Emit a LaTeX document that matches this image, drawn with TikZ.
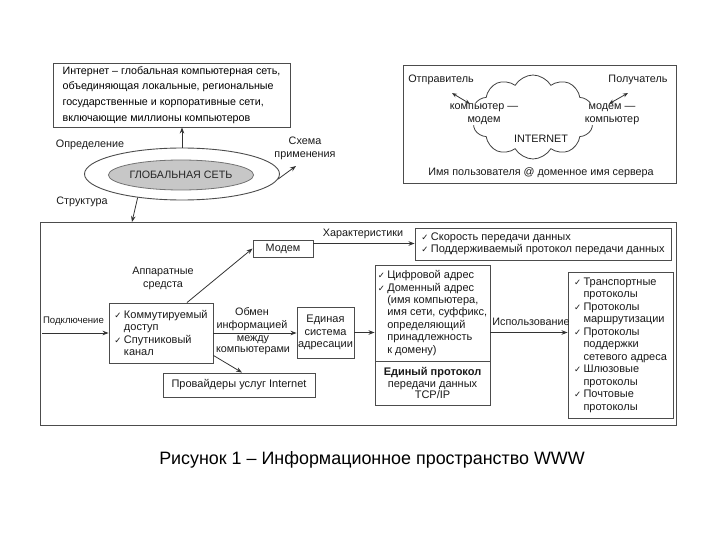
\documentclass[tikz,border=0pt]{standalone}
\usepackage{fontspec}
\setmainfont{Liberation Sans}
\newfontfamily\dejavu{DejaVu Sans}
\usetikzlibrary{shapes.geometric,shapes.symbols,arrows.meta,calc}
\newcommand\fsz[2]{\fontsize{#1}{#2}\selectfont}
\newcommand\ck{{\dejavu\fontsize{8.5}{8.5}\selectfont ✓}}
\newcommand\ci{\makebox[9.5pt][l]{\ck}}
\newcommand\cc{\hspace*{9.5pt}}
\begin{document}
\begin{tikzpicture}[x=1pt,y=-1pt,
  box/.style={draw=black!70, line width=0.9pt},
  txt/.style={text=black!90, inner sep=1pt, align=center, font=\fsz{10.8}{13}},
  bfont/.style={text=black!90, inner xsep=0pt, inner ysep=0pt, align=left, font=\fsz{11}{12.4}},
  arr/.style={draw=black!80, line width=0.8pt, -{Stealth[length=6pt,width=4.5pt]}},
  darr/.style={draw=black!80, line width=0.8pt, {Stealth[length=5pt,width=4pt]}-{Stealth[length=5pt,width=4pt]}},
]
\useasboundingbox (0,0) rectangle (720,540);
% definition box
\node[box, inner xsep=0pt, inner ysep=0pt, minimum width=237pt, minimum height=64pt, align=left, font=\fsz{10.7}{15.7}, text=black] (def) at (171.5,95) {Интернет – глобальная компьютерная сеть,\\ объединяющая локальные, региональные\\ государственные и корпоративные сети,\\ включающие миллионы компьютеров};
% ellipses
\node[ellipse, box, minimum width=195pt, minimum height=52pt, inner sep=0pt] (glob) at (182,174) {};
\node[ellipse, draw=black!55, fill=black!22, line width=0.8pt, minimum width=122pt, minimum height=30pt, inner sep=0pt, font=\fsz{10.7}{11}, text=black!85] (core) at (181,175) {ГЛОБАЛЬНАЯ СЕТЬ};
\node[txt] (opr) at (90,145) {Определение};
\node[txt] (schema) at (305,148) {Схема\\применения};
\node[txt] (struct) at (82,202) {Структура};
\coordinate (schemaend) at (296,166);
\coordinate (structend) at (132,222);
\draw[arr] (glob.north) -- (glob.north |- def.south);
\draw[arr] (glob.-3) -- (schemaend);
\draw[arr] (glob.208) -- (structend);
% top right box
\node[box, minimum width=273pt, minimum height=118pt] (web) at (539.5,124) {};
\node[cloud, draw=black!75, line width=0.8pt, cloud puffs=10, cloud puff arc=120, aspect=1.5, minimum width=122pt, minimum height=84pt, inner sep=0pt] (cloud) at (533,117) {};
\node[txt, fill=white, inner sep=0.5pt] (compl) at (484,114) {компьютер —\\модем};
\node[txt, fill=white, inner sep=0.5pt] (compr) at (612,114) {модем —\\компьютер};
\node[txt] (inet) at (541,139) {INTERNET};
\node[txt] (sender) at (441,80) {Отправитель};
\node[txt] (recip) at (638,80) {Получатель};
\node[txt] (email) at (541,173) {Имя пользователя @ доменное имя сервера};
\draw[darr] ([xshift=11pt,yshift=-7pt]sender.south) -- ([xshift=-14pt,yshift=-1pt]compl.north);
\draw[darr] ([xshift=-10pt,yshift=-7pt]recip.south) -- ([xshift=-3pt,yshift=-1pt]compr.north);
% big box
\node[box, minimum width=636pt, minimum height=203pt] (big) at (358,323.5) {};
\node[box, txt, minimum width=60pt, minimum height=17pt] (modem) at (283,248.5) {Модем};
\node[box, bfont, minimum width=256pt, minimum height=32pt] (chars) at (543,244) {\ci Скорость передачи данных\\ \ci Поддерживаемый протокол передачи данных};
\node[txt] (charl) at (363,234) {Характеристики};
\draw[arr] ([yshift=5pt]modem.east) -- ([yshift=5pt]modem.east -| chars.west);
\node[box, bfont, minimum width=104pt, minimum height=60pt] (conn) at (161,333) {\ci Коммутируемый\\ \cc доступ\\ \ci Спутниковый\\ \cc канал};
\node[txt, font=\fsz{9.6}{12}] (podkl) at (73.5,321) {Подключение};
\coordinate (connstart) at (42,333);
\draw[arr] (connstart) -- (conn.west);
\node[txt] (hw) at (163,278) {Аппаратные\\средста};
\draw[arr] ([xshift=26pt]conn.north) -- (modem.west);
\node[txt] (xchg) at (252,319) {Обмен\\информацией};
\node[txt, font=\fsz{10.8}{11}] (between) at (253,345) {между\\компьютерами};
\node[box, txt, inner sep=0pt, minimum width=57pt, minimum height=51pt, font=\fsz{11}{12.8}] (unified) at (325.5,332.5) {Единая\\система\\адресации};
\draw[arr] (conn.east) -- (conn.east -| unified.west);
\node[box, bfont, minimum width=115pt, minimum height=96pt] (addrtop) at (432.5,313) {\ci Цифровой адрес\\ \ci Доменный адрес\\ \cc (имя компьютера,\\ \cc имя сети, суффикс,\\ \cc определяющий\\ \cc принадлежность\\ \cc к домену)};
\node[box, txt, minimum width=115pt, minimum height=44pt, font=\fsz{11}{11.6}] (addrbot) at (432.5,383) {\textbf{Единый протокол}\\передачи данных\\TCP/IP};
\draw[arr] (unified.east) -- (unified.east -| addrtop.west);
\node[box, bfont, minimum width=105pt, minimum height=146pt, font=\fsz{11}{12.5}] (proto) at (620.5,345) {\ci Транспортные\\ \cc протоколы\\ \ci Протоколы\\ \cc маршрутизации\\ \ci Протоколы\\ \cc поддержки\\ \cc сетевого адреса\\ \ci Шлюзовые\\ \cc протоколы\\ \ci Почтовые\\ \cc протоколы};
\node[txt] (use) at (531,322) {Использование};
\draw[arr] (unified.east -| addrtop.east) -- (unified.east -| proto.west);
\node[box, txt, minimum width=152pt, minimum height=24pt, font=\fsz{11}{12}] (prov) at (239,385) {Провайдеры услуг Internet};
\draw[arr] ([yshift=8pt]conn.south east) -- ([xshift=3pt]prov.north);
% caption
\node[font=\fsz{17.9}{20}, text=black, inner sep=0pt] (cap) at (372,460) {Рисунок 1 – Информационное пространство WWW};
\end{tikzpicture}
\end{document}
